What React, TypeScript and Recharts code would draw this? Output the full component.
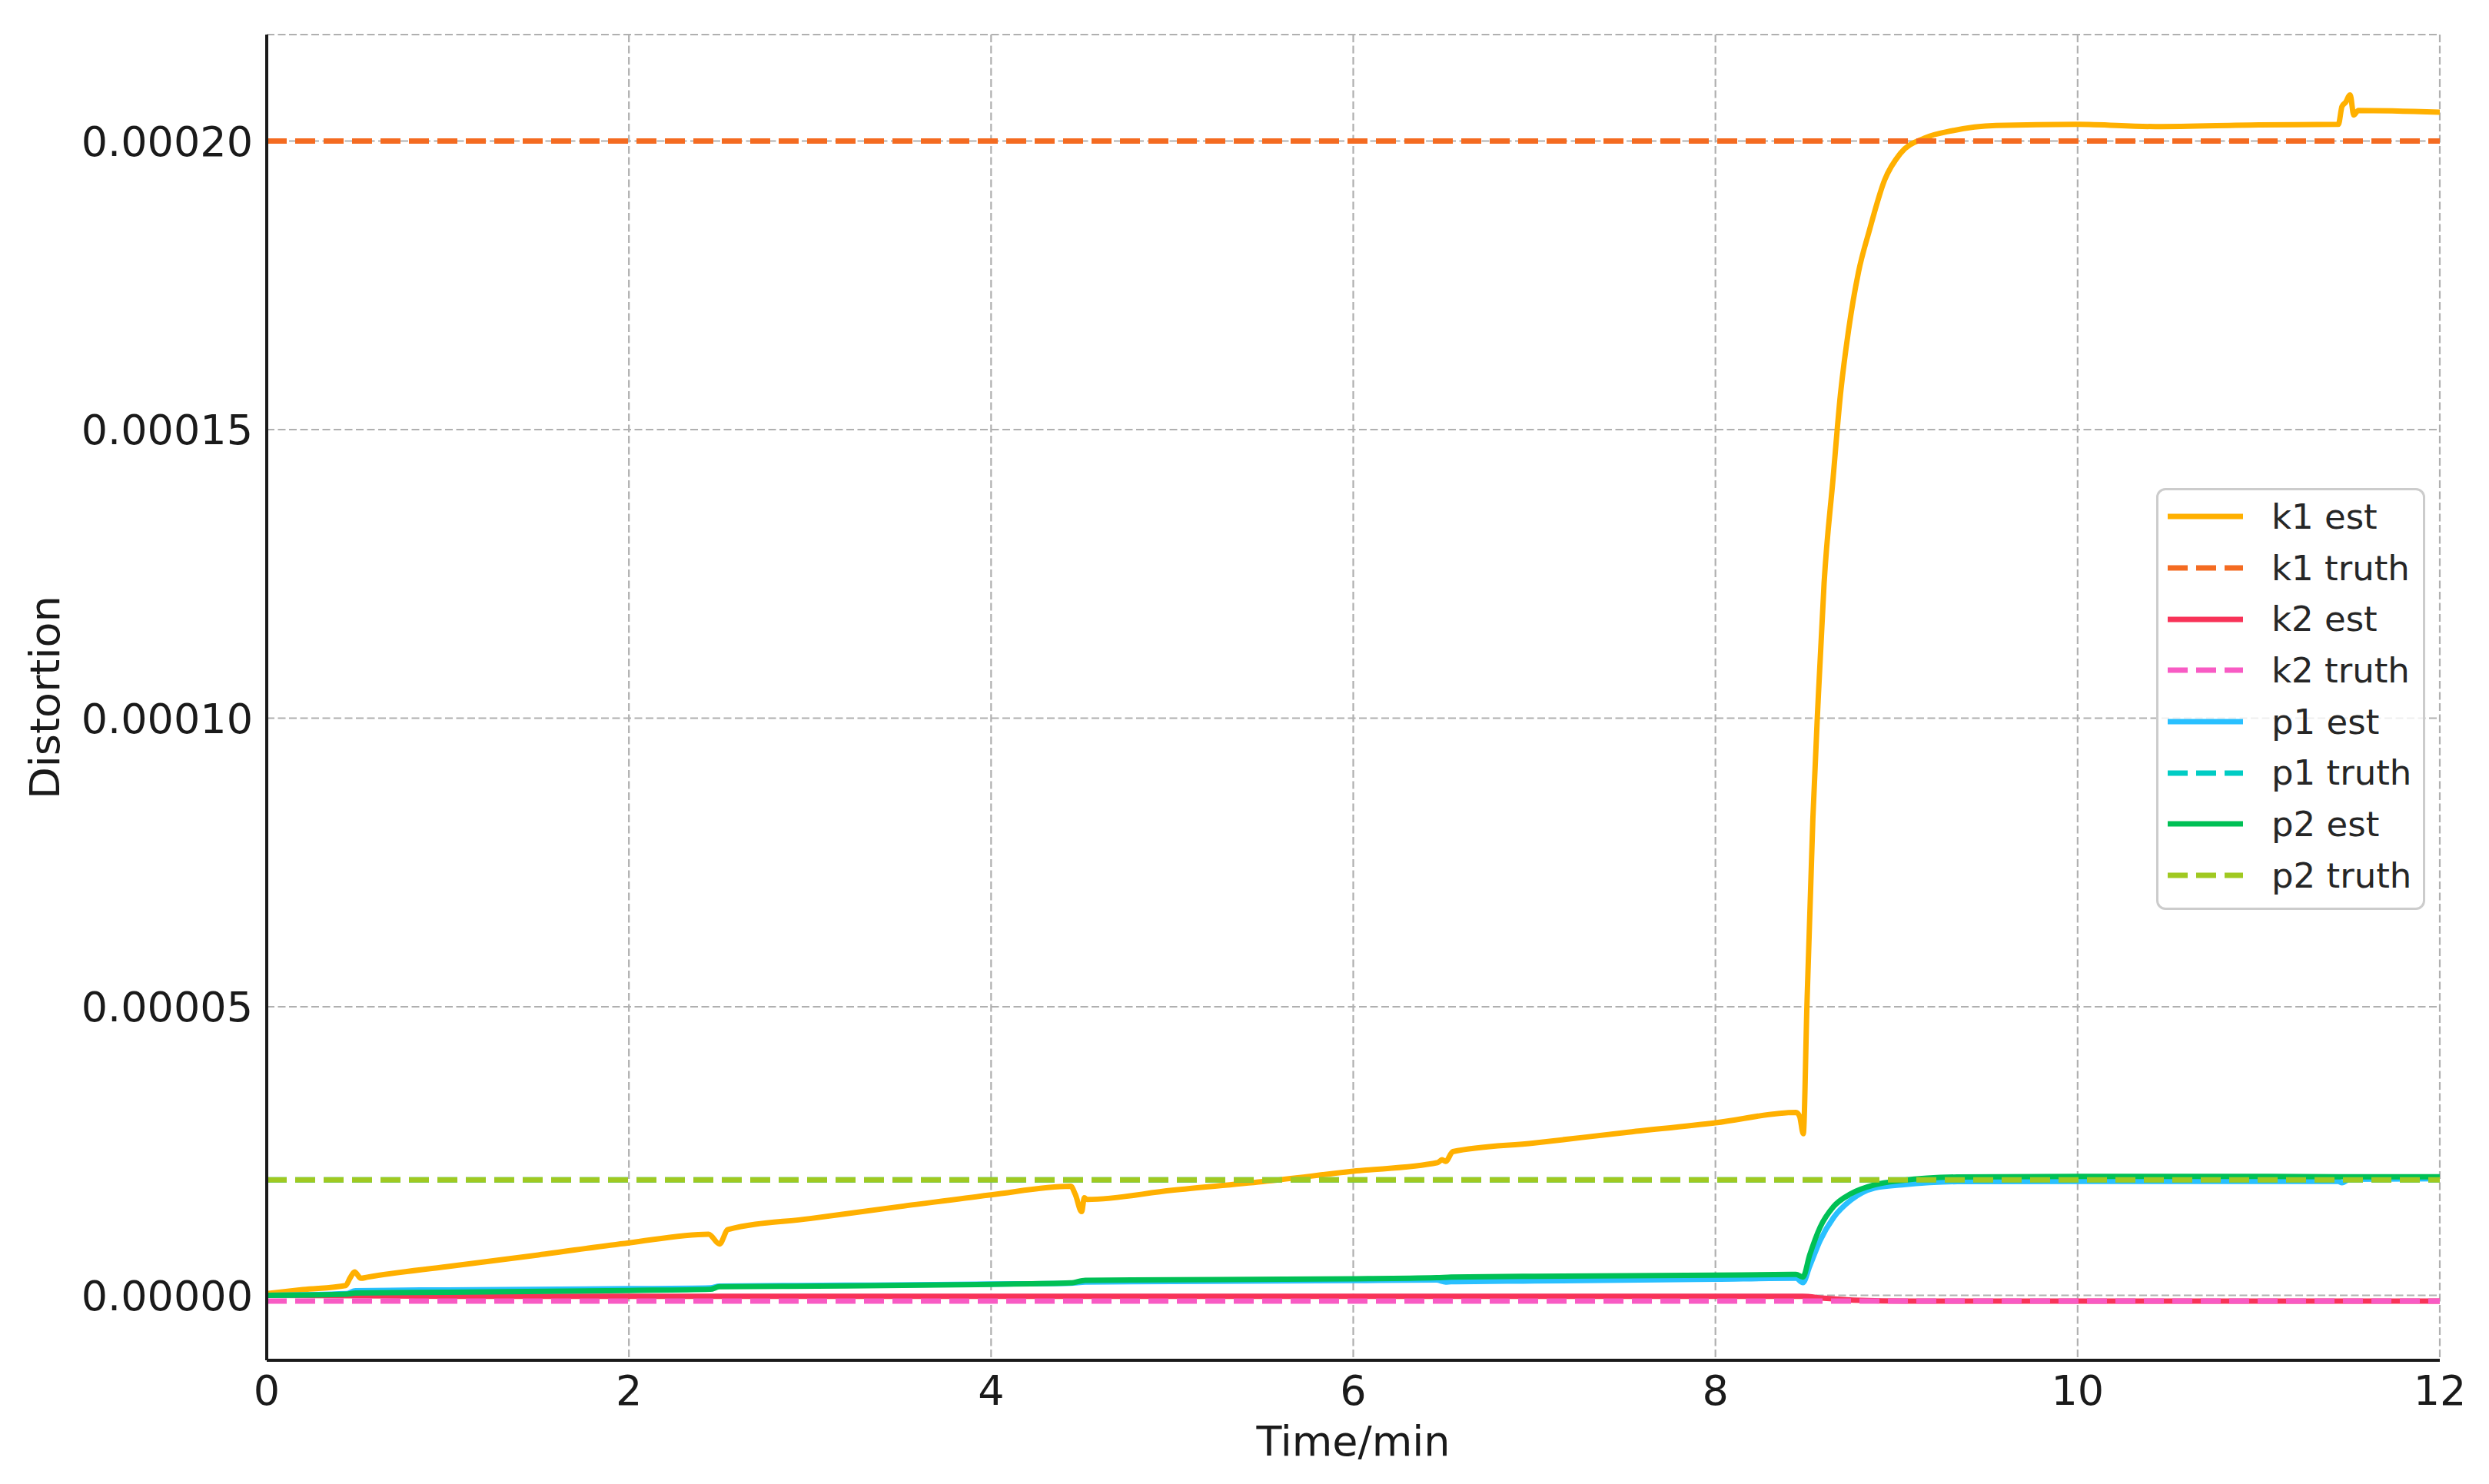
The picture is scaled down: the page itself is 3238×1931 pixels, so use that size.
import { LineChart, Line, XAxis, YAxis, CartesianGrid, Legend } from 'recharts';

const W = 3238;
const H = 1931;
const FONT = 'DejaVu Sans';

// values below are in units of 1e-6
const K1_EST_T = [0, 0.2, 0.436, 0.46, 0.485, 0.52, 0.555, 1.0, 1.5, 2.0, 2.44, 2.5, 2.547, 3.0, 3.5, 4.0, 4.44, 4.465, 4.5, 4.515, 4.53, 5.0, 5.5, 6.0, 6.466, 6.49, 6.51, 6.55, 7.0, 7.5, 8.0, 8.445, 8.465, 8.485, 8.505, 8.538, 8.567, 8.6, 8.65, 8.69, 8.735, 8.79, 8.85, 8.935, 9.02, 9.155, 9.31, 9.55, 10.0, 10.43, 11.0, 11.44, 11.46, 11.48, 11.505, 11.525, 11.55, 12.0];
const K1_EST_V = [0.3, 1.0, 1.7, 3.0, 4.05, 2.95, 3.15, 5.0, 7.0, 9.1, 10.6, 8.9, 11.4, 13.3, 15.4, 17.4, 18.9, 17.5, 14.5, 16.9, 16.6, 18.2, 19.7, 21.5, 23.0, 23.5, 23.2, 24.9, 26.4, 28.2, 29.9, 31.7, 31.0, 28.0, 50.0, 82.6, 103.0, 123.4, 141.7, 156.0, 167.2, 177.3, 184.5, 193.3, 197.8, 200.5, 201.8, 202.7, 202.9, 202.5, 202.8, 202.9, 206.0, 206.7, 208.0, 204.5, 205.3, 205.0];

const K2_EST_T = [0, 1.0, 8.48, 8.6, 8.76, 9.08, 12.0];
const K2_EST_V = [0.0, -0.15, -0.15, -0.5, -0.82, -1.0, -1.0];

const P1_EST_T = [0, 0.44, 0.49, 1.0, 2.0, 2.45, 2.5, 3.2, 4.0, 4.44, 4.52, 5.0, 6.0, 6.46, 6.51, 6.54, 7.0, 8.0, 8.445, 8.483, 8.52, 8.578, 8.653, 8.748, 8.88, 9.03, 9.336, 10.0, 11.0, 11.44, 11.46, 11.5, 12.0];
const P1_EST_V = [0.0, 0.3, 0.8, 0.95, 1.15, 1.3, 1.6, 1.75, 1.95, 2.1, 2.3, 2.4, 2.55, 2.65, 2.3, 2.35, 2.5, 2.8, 2.95, 2.2, 5.0, 9.5, 13.5, 16.5, 18.6, 19.15, 19.7, 19.75, 19.75, 19.75, 19.5, 20.1, 20.2];

const P2_EST_T = [0, 0.44, 0.49, 1.0, 2.0, 2.45, 2.5, 3.2, 4.0, 4.44, 4.52, 5.0, 6.0, 6.46, 6.54, 7.0, 8.0, 8.445, 8.483, 8.52, 8.578, 8.653, 8.748, 8.88, 9.03, 9.336, 10.0, 11.0, 11.5, 12.0];
const P2_EST_V = [0.0, 0.2, 0.4, 0.55, 0.85, 1.05, 1.5, 1.62, 1.9, 2.15, 2.6, 2.7, 2.86, 3.05, 3.17, 3.3, 3.5, 3.62, 3.17, 6.95, 11.8, 15.4, 17.6, 19.15, 19.9, 20.5, 20.6, 20.6, 20.55, 20.55];

const TRUTH_T = [0, 12];
const K1_TRUTH_V = [200, 200];
const K2_TRUTH_V = [-1, -1];
const P1_TRUTH_V = [20, 20];
const P2_TRUTH_V = [20, 20];

const X_TICKS = [0, 2, 4, 6, 8, 10, 12];
const Y_TICKS = [0, 0.00005, 0.0001, 0.00015, 0.0002];
const Y_DOMAIN = [-0.00001125, 0.00021844];

const rows = (ts: number[], vs: number[]) => ts.map((t, i) => ({ t, v: vs[i] * 1e-6 }));

const SERIES = [
  { name: 'k1 est', color: '#FFB000', dashed: false, data: rows(K1_EST_T, K1_EST_V) },
  { name: 'k1 truth', color: '#F46B21', dashed: true, data: rows(TRUTH_T, K1_TRUTH_V) },
  { name: 'k2 est', color: '#F83358', dashed: false, data: rows(K2_EST_T, K2_EST_V) },
  { name: 'k2 truth', color: '#F85BC4', dashed: true, data: rows(TRUTH_T, K2_TRUTH_V) },
  { name: 'p1 est', color: '#29C0FF', dashed: false, data: rows(P1_EST_T, P1_EST_V) },
  { name: 'p1 truth', color: '#00CCC4', dashed: true, data: rows(TRUTH_T, P1_TRUTH_V) },
  { name: 'p2 est', color: '#00C055', dashed: false, data: rows(P2_EST_T, P2_EST_V) },
  { name: 'p2 truth', color: '#A0C921', dashed: true, data: rows(TRUTH_T, P2_TRUTH_V) },
];

const DASH = '26 11';

function LegendBox() {
  return (
    <div
      style={{
        width: 350,
        boxSizing: 'border-box',
        border: '3px solid #cccccc',
        borderRadius: 12,
        background: 'rgba(255,255,255,0.8)',
        padding: '1px 0 8px 12px',
        fontFamily: FONT,
        fontSize: 45,
        color: '#262626',
      }}
    >
      {SERIES.map((s) => (
        <div key={s.name} style={{ height: 66.7, display: 'flex', alignItems: 'center' }}>
          <svg width={98} height={10} style={{ display: 'block' }}>
            <line x1={0} y1={5} x2={98} y2={5} stroke={s.color} strokeWidth={7}
              strokeDasharray={s.dashed ? DASH : undefined} />
          </svg>
          <span style={{ marginLeft: 37, lineHeight: 1, whiteSpace: 'nowrap' }}>{s.name}</span>
        </div>
      ))}
    </div>
  );
}

function YLabel(props: any) {
  const vb = props.viewBox || { x: 0, y: 45, width: 347, height: 1725 };
  const cx = vb.x + 77;
  const cy = vb.y + vb.height / 2;
  return (
    <text x={cx} y={cy} transform={`rotate(-90 ${cx} ${cy})`} textAnchor="middle"
      fill="#1a1a1a" fontSize={54} fontFamily={FONT}>
      Distortion
    </text>
  );
}

export default function App() {
  return (
    <div style={{ position: 'absolute', left: 0, top: 0, width: W, height: H, background: '#fff', overflow: 'hidden', fontFamily: FONT }}>
      <LineChart width={W} height={H} margin={{ top: 45, right: 64, bottom: 0, left: 0 }}>
        <CartesianGrid stroke="#b0b0b0" strokeWidth={2.2} strokeDasharray="10 4.5" />
        <XAxis
          type="number"
          dataKey="t"
          domain={[0, 12]}
          ticks={X_TICKS}
          allowDataOverflow
          height={161}
          tickSize={0}
          tickMargin={20}
          tickLine={false}
          axisLine={{ stroke: '#1a1a1a', strokeWidth: 4 }}
          tick={{ fill: '#1a1a1a', fontSize: 54, fontFamily: FONT }}
          label={{ value: 'Time/min', position: 'insideBottom', offset: 37, fill: '#1a1a1a', fontSize: 54, fontFamily: FONT }}
        />
        <YAxis
          type="number"
          domain={Y_DOMAIN}
          ticks={Y_TICKS}
          allowDataOverflow
          width={347}
          tickSize={0}
          tickMargin={18}
          tickLine={false}
          tickFormatter={(v: number) => v.toFixed(5)}
          axisLine={{ stroke: '#1a1a1a', strokeWidth: 4 }}
          tick={{ fill: '#1a1a1a', fontSize: 54, fontFamily: FONT }}
          label={<YLabel />}
        />
        <Legend
          layout="horizontal"
          verticalAlign="middle"
          align="center"
          content={<LegendBox />}
          wrapperStyle={{ left: 2805, top: 635, width: 350, height: 'auto' }}
        />
        {SERIES.map((s) => (
          <Line
            key={s.name}
            data={s.data}
            dataKey="v"
            name={s.name}
            type={s.dashed ? 'linear' : 'monotoneX'}
            stroke={s.color}
            strokeWidth={7}
            strokeDasharray={s.dashed ? DASH : undefined}
            dot={false}
            activeDot={false}
            isAnimationActive={false}
          />
        ))}
      </LineChart>
    </div>
  );
}
